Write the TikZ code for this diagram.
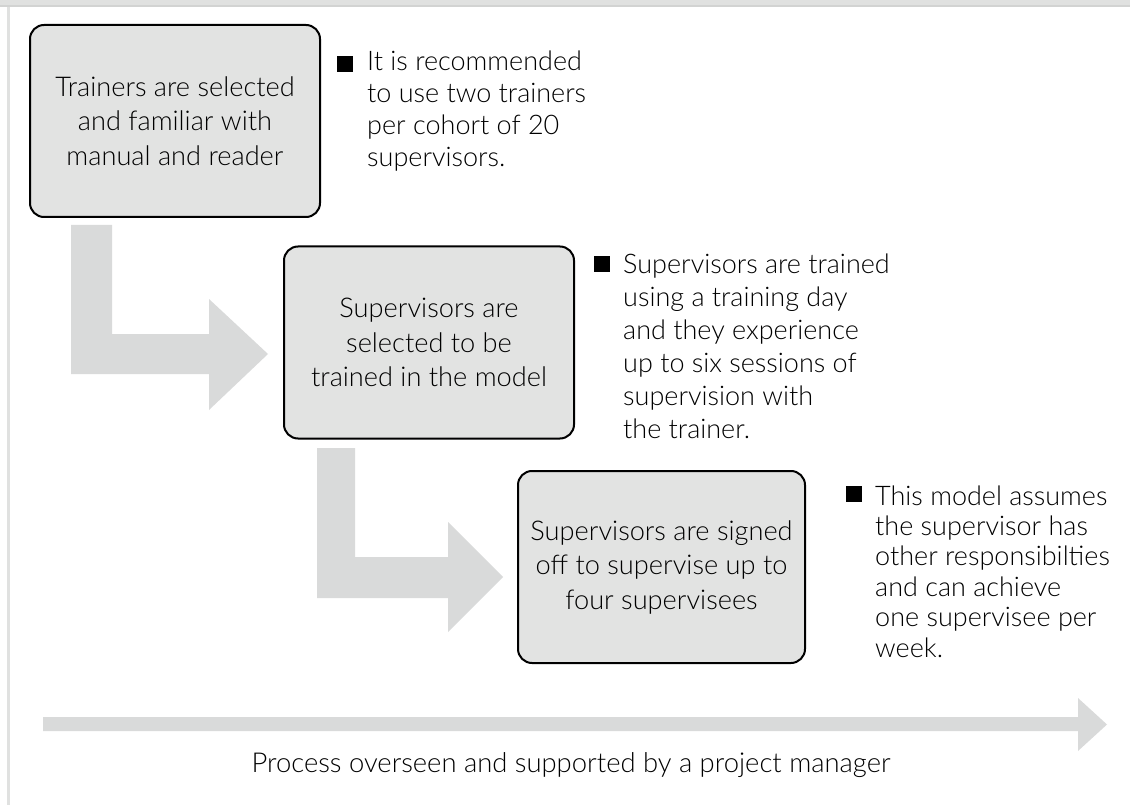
\documentclass[tikz,border=0pt]{standalone}
\usepackage{fontspec}
\setmainfont{Lato}[UprightFont=* Light]
\definecolor{boxfill}{HTML}{E2E3E2}
\definecolor{arrowfill}{HTML}{D9DADA}
\definecolor{framegrey}{HTML}{E0E1E0}
\definecolor{frameline}{HTML}{D2D3D2}
\begin{document}
\begin{tikzpicture}[x=1pt,y=-1pt,
  stepbox/.style={draw=black, line width=2pt, fill=boxfill, rounded corners=14pt,
    minimum width=290pt, minimum height=192pt, align=center, inner sep=0pt,
    font=\fontsize{27.2}{34.5}\selectfont},
  note/.style={anchor=base west, align=left, inner sep=0pt,
    font=\fontsize{27}{32}\selectfont},
  bulletsq/.style={fill=black, minimum size=16pt, inner sep=0pt},
  blockarrow/.style={fill=arrowfill, draw=none},
  caption/.style={anchor=base, inner sep=0pt, font=\fontsize{27.4}{32}\selectfont}]
% page area and frame
\useasboundingbox (0,0) rectangle (1130,805);
\fill[framegrey] (0,0) rectangle (1130,5);
\fill[frameline] (0,5) rectangle (1130,7);
\fill[framegrey] (7,7) rectangle (10,805);

% bent arrows between the steps
\fill[blockarrow] (71,225) -- (112,225) -- (112,334) -- (209,334) -- (209,299)
  -- (268,354) -- (209,410) -- (209,374) -- (71,374) -- cycle;
\fill[blockarrow] (317,448) -- (355,448) -- (355,557) -- (448,557) -- (448,522)
  -- (503,577) -- (448,632) -- (448,598) -- (317,598) -- cycle;

% process steps
\node[stepbox] (s1) at (175,121) {Trainers are selected\\and familiar with\\manual and reader};
\node[stepbox] (s2) at (429,342.5) {Supervisors are\\selected to be\\trained in the model};
\node[stepbox, minimum width=287pt] (s3) at (661.5,567) {Supervisors are signed\\off to supervise up to\\four supervisees};

% notes beside each step (placed by the baseline of their last line)
\node[bulletsq] (b1) at (344.5,64.5) {};
\node[note] (n1) at (367,167) {It is recommended\\to use two trainers\\per cohort of 20\\supervisors.};
\node[bulletsq] (b2) at (601.5,264) {};
\node[note, font=\fontsize{27}{33}\selectfont] (n2) at (623,438) {Supervisors are trained\\using a training day\\and they experience\\up to six sessions of\\supervision with\\the trainer.};
\node[bulletsq] (b3) at (853.5,493.5) {};
\node[note, font=\fontsize{27}{30.4}\selectfont] (n3) at (875,657) {This model assumes\\the supervisor has\\other responsibilties\\and can achieve\\one supervisee per\\week.};

% overall process arrow
\fill[blockarrow] (43,717) -- (1078,717) -- (1078,698) -- (1107,724.5)
  -- (1078,751) -- (1078,731) -- (43,731) -- cycle;
\node[caption] (pm) at (571,772) {Process overseen and supported by a project manager};
\end{tikzpicture}
\end{document}
